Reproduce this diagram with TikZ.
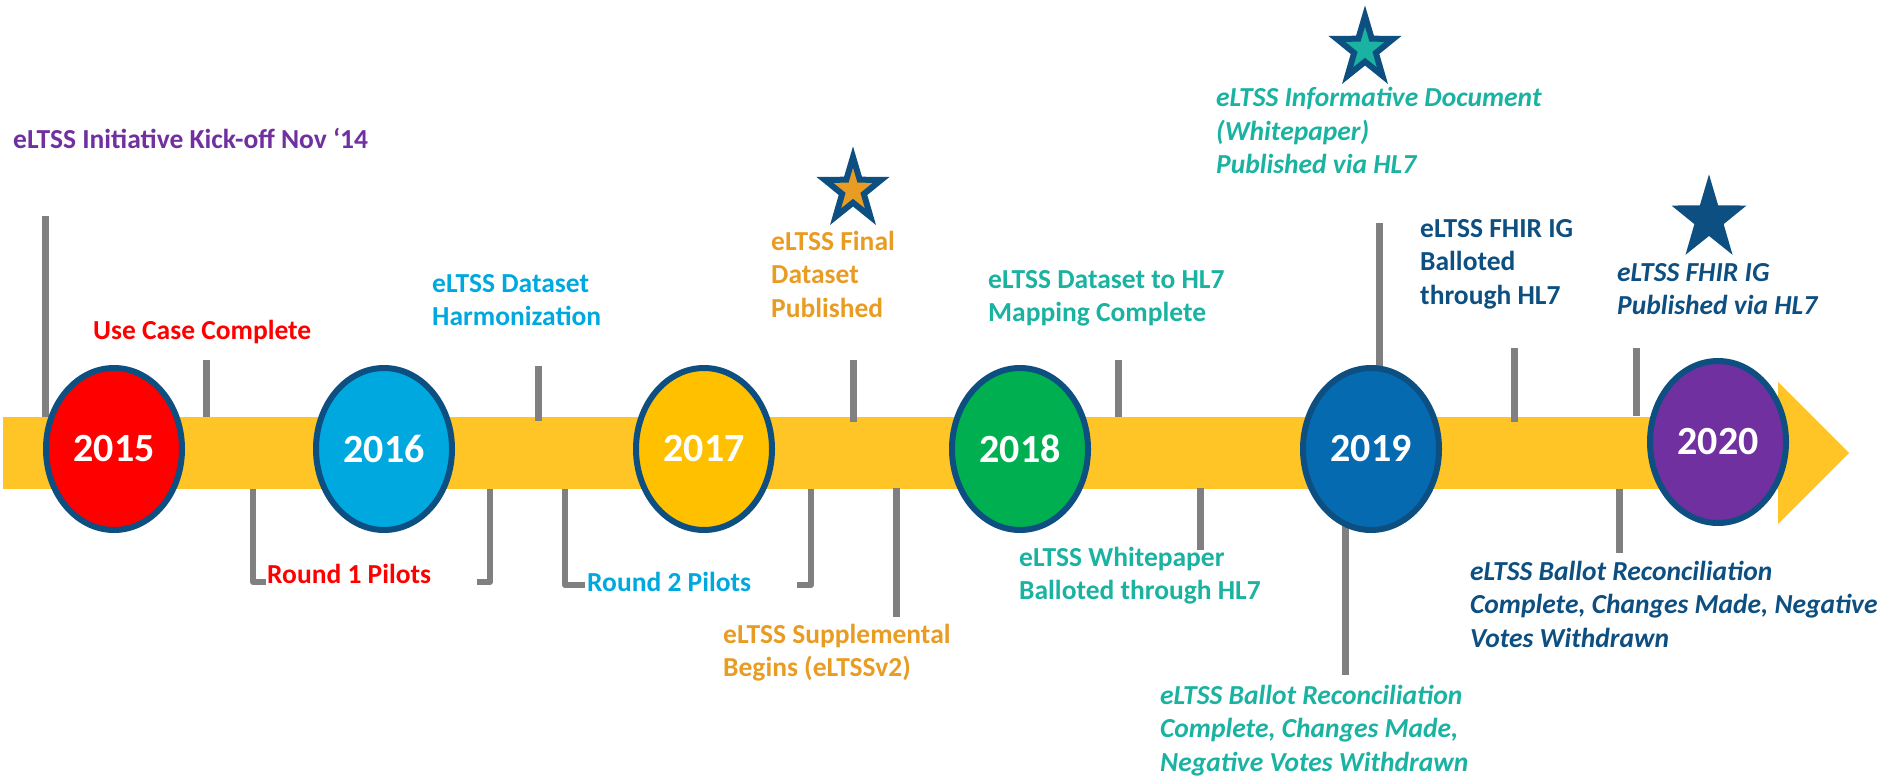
\documentclass[tikz,border=0pt]{standalone}
\usepackage{fontspec}
\setmainfont{Carlito}
\usetikzlibrary{shapes.geometric}
\definecolor{barY}{RGB}{255,196,37}
\definecolor{outl}{RGB}{13,79,129}
\definecolor{c15}{RGB}{255,0,0}
\definecolor{c16}{RGB}{0,168,224}
\definecolor{c17}{RGB}{255,192,0}
\definecolor{c18}{RGB}{0,176,80}
\definecolor{c19}{RGB}{6,106,176}
\definecolor{c20}{RGB}{112,48,160}
\definecolor{tickgray}{RGB}{128,128,128}
\definecolor{tPurple}{RGB}{112,48,160}
\definecolor{tRed}{RGB}{255,0,0}
\definecolor{tBlue}{RGB}{0,168,224}
\definecolor{tOrange}{RGB}{233,156,35}
\definecolor{tTeal}{RGB}{26,178,160}
\definecolor{tDark}{RGB}{13,79,129}
\newcommand\mlines[1]{\begin{tabular}[t]{@{}l@{}}#1\end{tabular}}
\tikzset{
  yearnode/.style={ellipse, draw=outl, line width=6pt, minimum width=136pt,
    minimum height=162pt, inner sep=0pt, text=white,
    font=\fontsize{40}{48}\selectfont\bfseries},
  lbl/.style={anchor=base west, inner sep=0pt,
    font=\fontsize{27.5}{33.5}\selectfont\bfseries},
  ilbl/.style={anchor=base west, inner sep=0pt,
    font=\fontsize{27.5}{33.5}\selectfont\bfseries\itshape},
  tick/.style={draw=tickgray, line width=7pt},
  brk/.style={draw=tickgray, line width=6pt, line join=round},
  mstar/.style={star, star points=5, star point ratio=2.6, inner sep=0pt,
    draw=outl, line width=6pt, minimum size=66pt, transform shape}
}
\begin{document}
\begin{tikzpicture}[x=1pt,y=-1pt]
\useasboundingbox (0,0) rectangle (1881,778);
% timeline arrow
\fill[barY] (3,417) rectangle (1778,489);
\fill[barY] (1778,382) -- (1849,453) -- (1778,524) -- cycle;

% tick coordinates
\coordinate (a1) at (45,216);   \coordinate (b1) at (45,417);
\coordinate (a2) at (206,360);  \coordinate (b2) at (206,417);
\coordinate (a3) at (538,366);  \coordinate (b3) at (538,421);
\coordinate (a4) at (853,360);  \coordinate (b4) at (853,422);
\coordinate (a5) at (1118,360); \coordinate (b5) at (1118,417);
\coordinate (a6) at (1379,223); \coordinate (b6) at (1379,380);
\coordinate (a7) at (1514,348); \coordinate (b7) at (1514,422);
\coordinate (a8) at (1636,348); \coordinate (b8) at (1636,416);
\coordinate (a9) at (896,488);  \coordinate (b9) at (896,617);
\coordinate (a10) at (1200,488); \coordinate (b10) at (1200,550);
\coordinate (a11) at (1345,520); \coordinate (b11) at (1345,675);
\coordinate (a12) at (1619,489); \coordinate (b12) at (1619,553);
\foreach \i in {1,...,12} {\draw[tick] (a\i) -- (b\i);}

% brackets
\coordinate (r1a) at (253,489); \coordinate (r1b) at (253,582); \coordinate (r1c) at (266,582);
\coordinate (r1d) at (490,489); \coordinate (r1e) at (490,582); \coordinate (r1f) at (477,582);
\coordinate (r2a) at (565,489); \coordinate (r2b) at (565,585); \coordinate (r2c) at (585,585);
\coordinate (r2d) at (811,489); \coordinate (r2e) at (811,585); \coordinate (r2f) at (797,585);
\draw[brk] (r1a) -- (r1b) -- (r1c);
\draw[brk] (r1d) -- (r1e) -- (r1f);
\draw[brk] (r2a) -- (r2b) -- (r2c);
\draw[brk] (r2d) -- (r2e) -- (r2f);

% year circles
\node[yearnode, fill=c15] (y15) at (114,449) {2015};
\node[yearnode, fill=c16] (y16) at (384,449) {2016};
\node[yearnode, fill=c17] (y17) at (704,449) {2017};
\node[yearnode, fill=c18] (y18) at (1020,449) {2018};
\node[yearnode, fill=c19] (y19) at (1371,449) {2019};
\node[yearnode, fill=c20] (y20) at (1718,442) {2020};

% stars
\begin{scope}[shift={(853,190)}, xscale=0.9]
  \node[mstar, fill=tOrange] (s1) at (0,0) {};
\end{scope}
\begin{scope}[shift={(1365,49)}, xscale=0.9]
  \node[mstar, fill=tTeal] (s2) at (0,0) {};
\end{scope}
\begin{scope}[shift={(1709,219)}, xscale=0.9]
  \node[mstar, fill=outl, minimum size=68pt] (s3) at (0,0) {};
\end{scope}

% labels
\node[lbl, text=tPurple] (lKick) at (13,149) {eLTSS Initiative Kick-off Nov ‘14};
\node[lbl, text=tRed] (lUse) at (93,339) {Use Case Complete};
\node[lbl, text=tBlue] (lHarm) at (432,292) {\mlines{eLTSS Dataset\\Harmonization}};
\node[lbl, text=tOrange] (lFinal) at (771,250) {\mlines{eLTSS Final\\Dataset\\Published}};
\node[lbl, text=tTeal] (lMap) at (988,288) {\mlines{eLTSS Dataset to HL7\\Mapping Complete}};
\node[ilbl, text=tTeal] (lInfo) at (1216,107) {\mlines{eLTSS Informative Document\\(Whitepaper)\\Published via HL7}};
\node[lbl, text=tDark] (lFhirB) at (1420,237) {\mlines{eLTSS FHIR IG\\Balloted\\through HL7}};
\node[ilbl, text=tDark] (lFhirP) at (1617,281) {\mlines{eLTSS FHIR IG\\Published via HL7}};
\node[lbl, text=tRed] (lR1) at (267,583) {Round 1 Pilots};
\node[lbl, text=tBlue] (lR2) at (587,591) {Round 2 Pilots};
\node[lbl, text=tOrange] (lSupp) at (723,643) {\mlines{eLTSS Supplemental\\Begins (eLTSSv2)}};
\node[lbl, text=tTeal] (lWhite) at (1019,566) {\mlines{eLTSS Whitepaper\\Balloted through HL7}};
\node[ilbl, text=tTeal] (lRecT) at (1160,704) {\mlines{eLTSS Ballot Reconciliation\\Complete, Changes Made,\\Negative Votes Withdrawn}};
\node[ilbl, text=tDark] (lRecD) at (1470,580) {\mlines{eLTSS Ballot Reconciliation\\Complete, Changes Made, Negative\\Votes Withdrawn}};
\end{tikzpicture}
\end{document}
